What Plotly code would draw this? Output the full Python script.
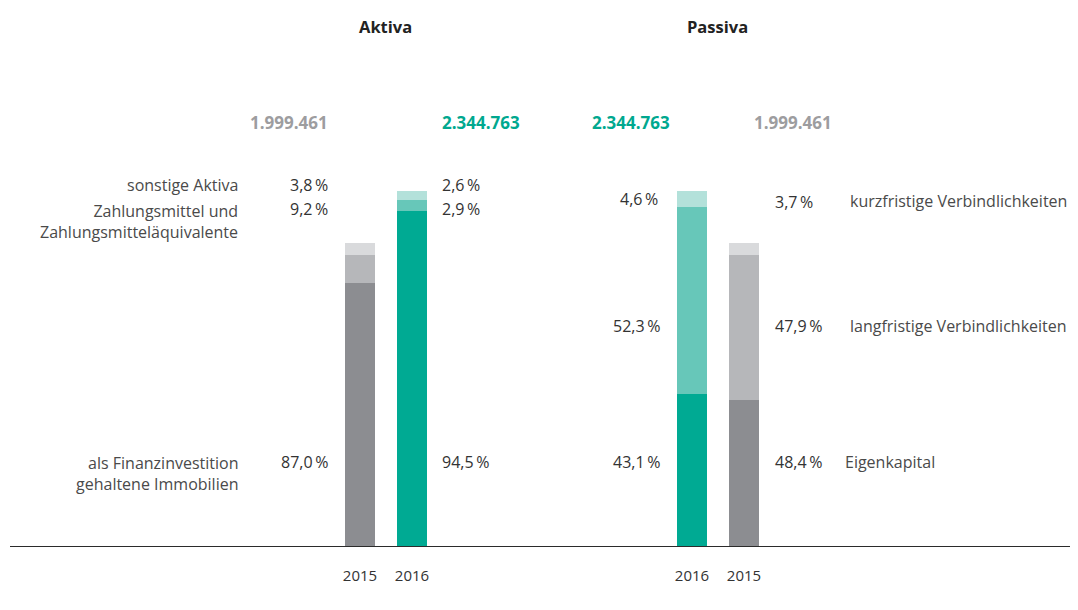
import plotly.graph_objects as go

# Bilanzsumme in TEUR
totals = {"2015": 1999461, "2016": 2344763}

# Aktiva, Anteile in %
aktiva_years = ["2015", "2016"]
aktiva_immobilien = [87.0, 94.5]
aktiva_zahlungsmittel = [9.2, 2.9]
aktiva_sonstige = [3.8, 2.6]

# Passiva, Anteile in %
passiva_years = ["2016", "2015"]
passiva_eigenkapital = [43.1, 48.4]
passiva_langfristig = [52.3, 47.9]
passiva_kurzfristig = [4.6, 3.7]

# page body has an 8px margin, so the figure starts at (8, 8) in the window
OFF = 8
W, H = 1078 - 2 * OFF, 610 - 2 * OFF
BASE = 547          # pixel row of the baseline (window coords)
SCALE_PX = 356      # pixel height of the larger balance total

GRAY = ["#8c8d91", "#b6b7ba", "#d9dadc"]
TEAL = ["#00aa93", "#67c7b9", "#b3e1da"]
FONT = "Open Sans"


def pct(v):
    return f"{v:.1f}".replace(".", ",") + "\u2009%"


def num(v):
    return f"{v:,}".replace(",", ".")


def py(ypix):
    return (BASE - ypix) / (BASE - OFF)


def px(xpix):
    return (xpix - OFF) / W


def layer(years, shares, colors, xaxis):
    vals = [s / 100 * totals[y] for s, y in zip(shares, years)]
    return go.Bar(x=years, y=vals, marker=dict(color=colors, line_width=0),
                  xaxis=xaxis, yaxis="y", hoverinfo="skip", showlegend=False)


def col(years, level):
    return [GRAY[level] if y == "2015" else TEAL[level] for y in years]


fig = go.Figure()
for lvl, series in enumerate([aktiva_immobilien, aktiva_zahlungsmittel, aktiva_sonstige]):
    fig.add_trace(layer(aktiva_years, series, col(aktiva_years, lvl), "x"))
for lvl, series in enumerate([passiva_eigenkapital, passiva_langfristig, passiva_kurzfristig]):
    fig.add_trace(layer(passiva_years, series, col(passiva_years, lvl), "x2"))

ymax = max(totals.values()) * (BASE - OFF) / SCALE_PX
xax = dict(type="category", showgrid=False, zeroline=False, showline=False,
           ticks="", ticklabelstandoff=18, fixedrange=True,
           tickfont=dict(family=FONT, size=15, color="#333333"))

fig.update_layout(
    width=W, height=H,
    margin=dict(l=0, r=0, t=0, b=H - (BASE - OFF)),
    paper_bgcolor="white", plot_bgcolor="white",
    barmode="stack", bargap=0.42,
    xaxis=dict(domain=[px(334), px(438)], categoryorder="array",
               categoryarray=aktiva_years, anchor="y", **xax),
    xaxis2=dict(domain=[px(666), px(770)], categoryorder="array",
                categoryarray=passiva_years, anchor="y", **xax),
    yaxis=dict(range=[0, ymax], visible=False, fixedrange=True),
)

fig.add_shape(type="line", xref="paper", yref="y", x0=px(10), x1=1,
              y0=0, y1=0, line=dict(color="#2b2b2b", width=2))

ann = []


def text(x, y, s, anchor="left", color="#333333", size=16, bold=False):
    if bold:
        s = f"<b>{s}</b>"
    # annotations carry a couple of pixels of inner padding
    if anchor == "right":
        x += 2
    elif anchor == "left":
        x -= 2
    ann.append(dict(x=px(x), y=py(y), xref="paper", yref="paper", text=s,
                    xanchor=anchor, yanchor="middle", showarrow=False,
                    align="right" if anchor == "right" else "left",
                    font=dict(family=FONT, size=size, color=color)))


# titles
text(385, 27, "Aktiva", "center", "#222222", 16.5, True)
text(717, 27, "Passiva", "center", "#222222", 16.5, True)

# totals
TOT = 17
text(328, 122, num(totals["2015"]), "right", "#9d9d9f", TOT, True)
text(442, 122, num(totals["2016"]), "left", "#00a88f", TOT, True)
text(670, 122, num(totals["2016"]), "right", "#00a88f", TOT, True)
text(754, 122, num(totals["2015"]), "left", "#9d9d9f", TOT, True)

# Aktiva labels
LBL = "#4a4a4a"
text(238, 185, "sonstige Aktiva", "right", LBL)
text(238, 221, "Zahlungsmittel und<br>Zahlungsmitteläquivalente", "right", LBL)
text(238, 473, "als Finanzinvestition<br>gehaltene Immobilien", "right", LBL)
text(328, 185, pct(aktiva_sonstige[0]), "right")
text(328, 209, pct(aktiva_zahlungsmittel[0]), "right")
text(328, 462, pct(aktiva_immobilien[0]), "right")
text(442, 185, pct(aktiva_sonstige[1]))
text(442, 209, pct(aktiva_zahlungsmittel[1]))
text(442, 462, pct(aktiva_immobilien[1]))

# Passiva labels
text(658, 199, pct(passiva_kurzfristig[0]), "right")
text(660, 326, pct(passiva_langfristig[0]), "right")
text(660, 462, pct(passiva_eigenkapital[0]), "right")
text(775, 202, pct(passiva_kurzfristig[1]))
text(775, 326, pct(passiva_langfristig[1]))
text(775, 462, pct(passiva_eigenkapital[1]))
text(850, 201, "kurzfristige Verbindlichkeiten", "left", LBL)
text(850, 326, "langfristige Verbindlichkeiten", "left", LBL)
text(845, 462, "Eigenkapital", "left", LBL)

fig.update_layout(annotations=ann)
fig.write_html("out.html")
